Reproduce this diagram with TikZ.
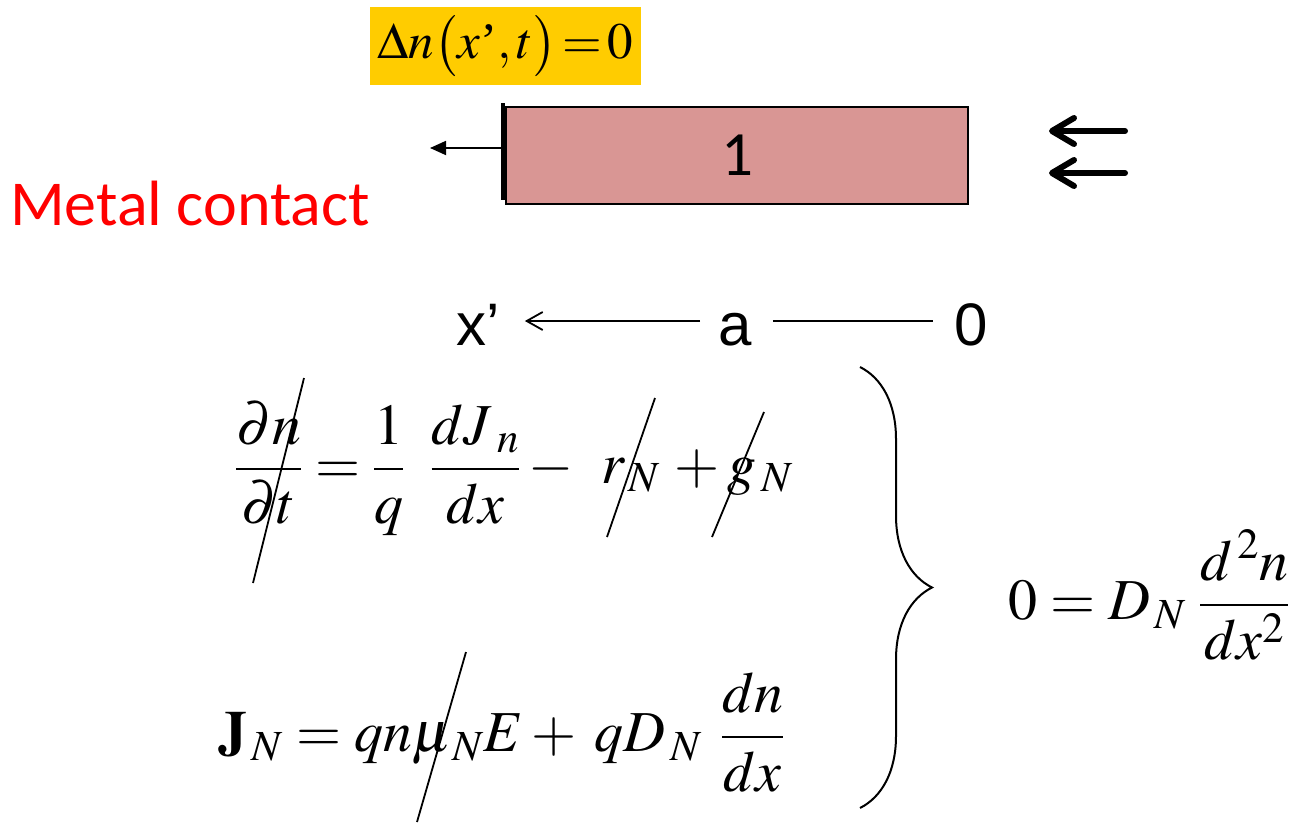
\documentclass[tikz,border=0pt]{standalone}
\usepackage{mathptmx}
\usepackage[no-math]{fontspec}
\setmainfont{Liberation Serif}
\newfontfamily\calibrifont{Carlito}
\newfontfamily\arialfont{Liberation Sans}
\usetikzlibrary{arrows.meta,positioning,decorations.pathreplacing}
\definecolor{condyellow}{RGB}{255,204,0}
\definecolor{slabpink}{RGB}{217,150,148}
\definecolor{contactred}{RGB}{255,0,0}
\tikzset{
cond/.style={fill=condyellow, minimum width=271pt, minimum height=78pt, inner sep=0pt, font=\fontsize{51}{56}\selectfont},
slab/.style={draw=black, line width=2pt, fill=slabpink, minimum width=462pt, minimum height=97pt, inner sep=0pt, font=\calibrifont\fontsize{63}{70}\selectfont},
contact/.style={line width=3.5pt},
label/.style={inner sep=0pt, text=contactred, font=\calibrifont\fontsize{64}{70}\selectfont},
axis/.style={inner sep=0pt, text height=48pt, text depth=0pt, font=\arialfont\fontsize{60}{66}\selectfont},
eqn/.style={inner sep=0pt, font=\fontsize{58}{64}\selectfont},
thinarrow/.style={-{Triangle[length=16pt,width=14pt]}, line width=1.8pt},
openarrow/.style={-{Straight Barb[length=16pt,width=18pt]}, line width=1.8pt},
fatarrow/.style={-{Straight Barb[length=22pt,width=26pt,round]}, line width=6pt, line cap=round},
cancel/.style={line width=1.8pt},
brace/.style={decorate, decoration={brace, amplitude=72pt}, line width=2pt}
}
\begin{document}
\begin{tikzpicture}[x=1pt,y=-1pt]
\useasboundingbox (0,0) rectangle (1299,825);
% boundary condition and sample
\node[cond] (cond) at (505.5,46) {$\Delta n\bigl(x\mbox{'},t\bigr)\!=\!0$};
\node[slab] (slab) at (737,155.5) {1};
\draw[contact] (503,103) -- (503,200);
\coordinate (cstart) at (503,148);
\coordinate (cend) at (430,148);
\draw[thinarrow] (cstart) -- (cend);
\node[label, anchor=base west] (metal) at (10,225) {Metal contact};
% incoming light
\coordinate (in1) at (1125,131);
\coordinate (out1) at (1049,131);
\coordinate (in2) at (1125,173);
\coordinate (out2) at (1049,173);
\draw[fatarrow] (in1) -- (out1);
\draw[fatarrow] (in2) -- (out2);
% axis
\node[axis, anchor=base] (a) at (735,345) {a};
\node[axis, anchor=base] (xp) at (478,345) {x’};
\node[axis, anchor=base] (zero) at (971,345) {0};
\draw[openarrow, shorten <=18pt, shorten >=25pt] (a.west) -- (xp.east);
\draw[line width=1.8pt, shorten <=21pt, shorten >=21pt] (a.east) -- (zero.west);
% equations
\node[eqn, anchor=west] (contin) at (235,468) {$\displaystyle\frac{\partial n}{\partial t}=\frac{1}{q}\mkern8mu\frac{dJ_{\;n}}{dx}-\mkern6mu r_{\,N}\mkern2mu+g_{\,N}$};
\node[eqn, anchor=west] (curr) at (218,732) {$\displaystyle\mathbf{J}_{\,N}=qn\mu_{\,N}E+\mkern3mu qD_{\,N}\mkern6mu\frac{dn}{dx}$};
\node[eqn, anchor=west] (diff) at (1008,595) {$\displaystyle 0=D_{\,N}\mkern4mu\frac{d^{\,2}n}{dx^{2}}$};
\draw[cancel] (304,378) -- (253,583);
\draw[cancel] (655,398) -- (607,537);
\draw[cancel] (764,412) -- (712,537);
\draw[cancel] (466,652) -- (417,822);
\draw[brace] (860,367) -- (860,808);
\end{tikzpicture}
\end{document}
